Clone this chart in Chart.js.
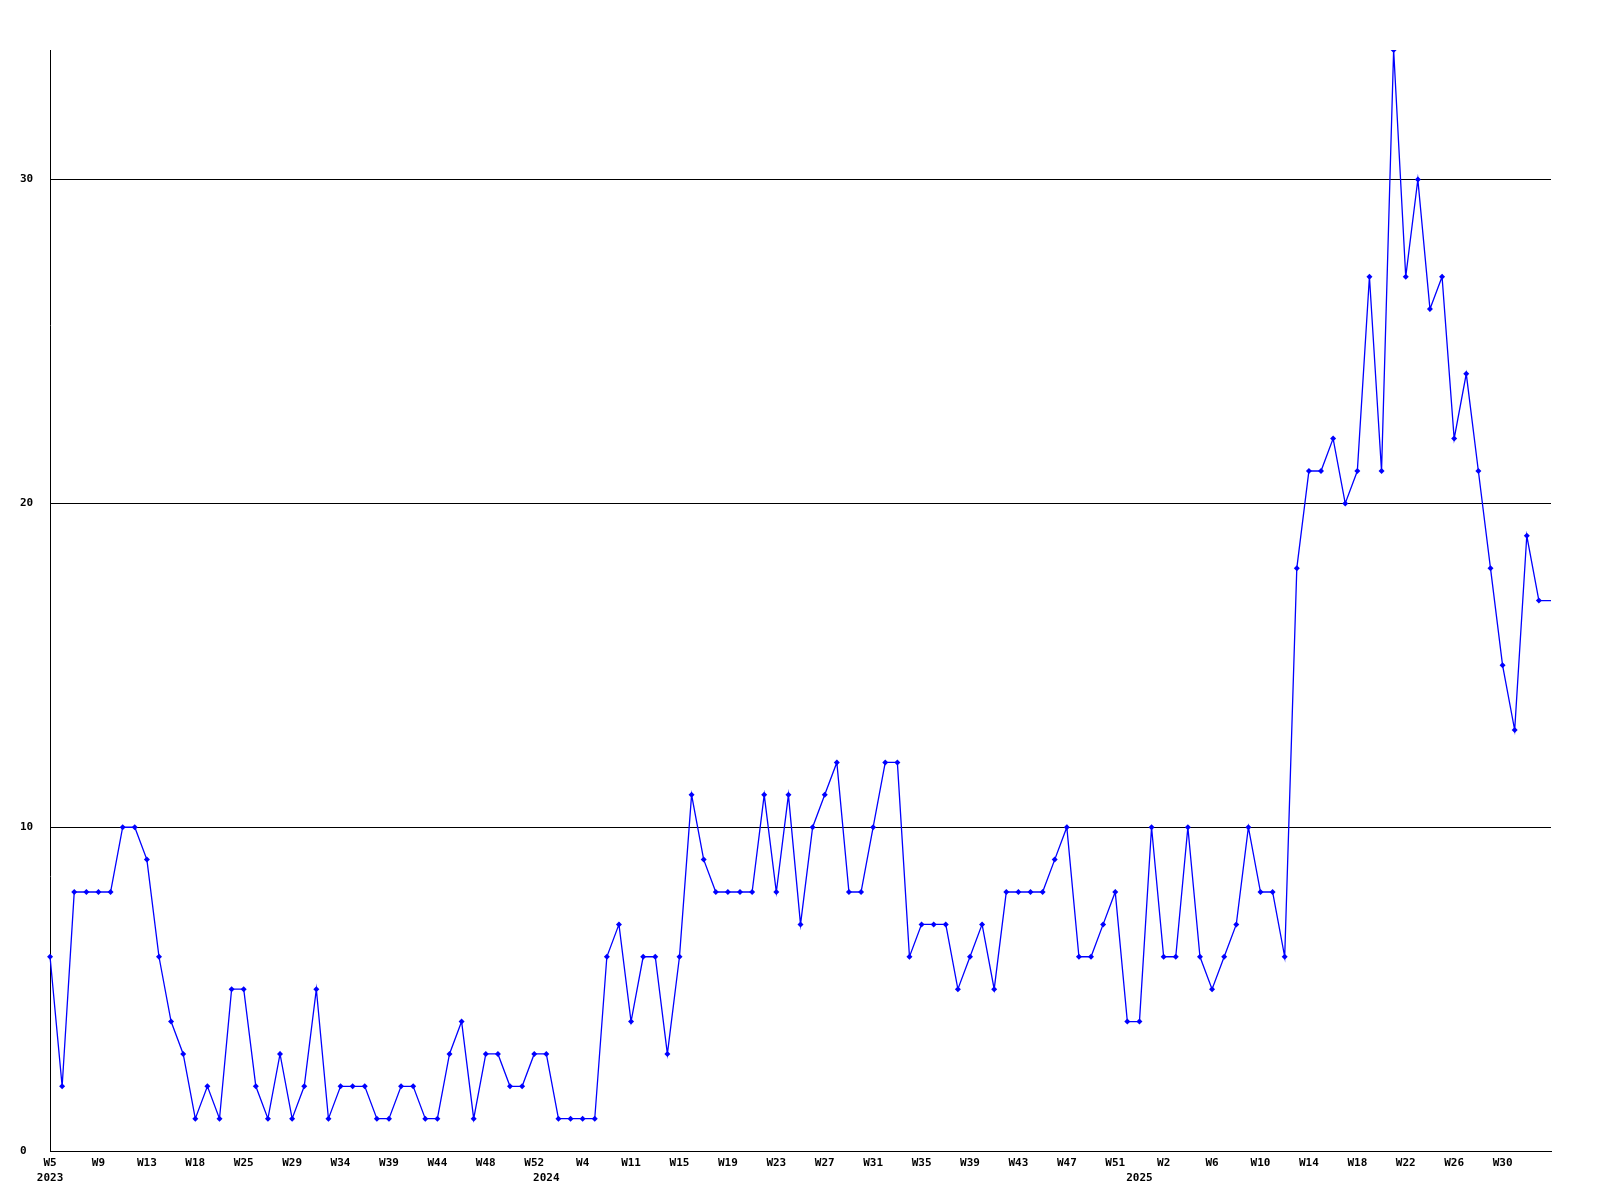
<!DOCTYPE html>
<html>
<head>
<meta charset="utf-8">
<script src="https://cdn.jsdelivr.net/npm/chart.js@4.4.1/dist/chart.umd.min.js"></script>
<style>
  body { margin: 0; background: #fff; }
  #wrap { width: 1600px; height: 1200px; }
</style>
</head>
<body>
<div id="wrap"><canvas id="grafico" width="1600" height="1200"></canvas></div>
<script>
// weekly counts, one per point, from W5 2023 to the latest week of 2025
const values = [
    6, 2, 8, 8, 8, 8, 10, 10, 9, 6, 4, 3,
    1, 2, 1, 5, 5, 2, 1, 3, 1, 2, 5, 1,
    2, 2, 2, 1, 1, 2, 2, 1, 1, 3, 4, 1,
    3, 3, 2, 2, 3, 3, 1, 1, 1, 1, 6, 7,
    4, 6, 6, 3, 6, 11, 9, 8, 8, 8, 8, 11,
    8, 11, 7, 10, 11, 12, 8, 8, 10, 12, 12, 6,
    7, 7, 7, 5, 6, 7, 5, 8, 8, 8, 8, 9,
    10, 6, 6, 7, 8, 4, 4, 10, 6, 6, 10, 6,
    5, 6, 7, 10, 8, 8, 6, 18, 21, 21, 22, 20,
    21, 27, 21, 34, 27, 30, 26, 27, 22, 24, 21, 18,
    15, 13, 19, 17, 17
];

// week label printed under every 4th point
const weekTicks = [
    'W5', 'W9', 'W13', 'W18', 'W25', 'W29', 'W34', 'W39', 'W44', 'W48', 'W52',
    'W4', 'W11', 'W15', 'W19', 'W23', 'W27', 'W31', 'W35', 'W39', 'W43', 'W47', 'W51',
    'W2', 'W6', 'W10', 'W14', 'W18', 'W22', 'W26', 'W30'
];

// year printed under the first point of each year (point index -> year)
const yearAt = { 0: '2023', 41: '2024', 90: '2025' };

const yMax = 34;
const yStep = 10;

const labels = values.map(function (v, i) { return i; });

const fonte = { family: 'DejaVu Sans Mono', size: 11, weight: 'bold', lineHeight: 1.36 };

const ctx = document.getElementById('grafico').getContext('2d');

new Chart(ctx, {
    type: 'line',
    data: {
        labels: labels,
        datasets: [{
            data: values,
            borderColor: '#0000ff',
            backgroundColor: '#0000ff',
            borderWidth: 1.3,
            tension: 0,
            fill: false,
            pointStyle: 'rectRot',
            // last point sits on the right edge, no marker there
            pointRadius: function (c) { return c.dataIndex === values.length - 1 ? 0 : 3; },
            pointBorderWidth: 0,
            pointBackgroundColor: '#0000ff'
        }]
    },
    options: {
        responsive: false,
        animation: false,
        layout: { padding: { left: 20, top: 50, right: 49, bottom: 9 } },
        plugins: {
            legend: { display: false },
            tooltip: { enabled: false }
        },
        scales: {
            x: {
                grid: { display: false, drawTicks: false },
                border: { display: true, color: '#000', width: 1 },
                ticks: {
                    autoSkip: false,
                    maxRotation: 0,
                    minRotation: 0,
                    padding: 5,
                    color: '#000',
                    font: fonte,
                    callback: function (value, index) {
                        var week = index % 4 === 0 ? weekTicks[index / 4] : '';
                        var year = yearAt[index];
                        if (year) return [week || '', year];
                        if (week) return week;
                        return null;
                    }
                }
            },
            y: {
                min: 0,
                max: yMax,
                grid: { color: '#000', lineWidth: 1, drawTicks: false },
                border: { display: true, color: '#000', width: 1 },
                ticks: {
                    stepSize: yStep,
                    includeBounds: false,
                    crossAlign: 'far',
                    padding: 8.4,
                    color: '#000',
                    font: fonte
                }
            }
        }
    }
});
</script>
</body>
</html>
